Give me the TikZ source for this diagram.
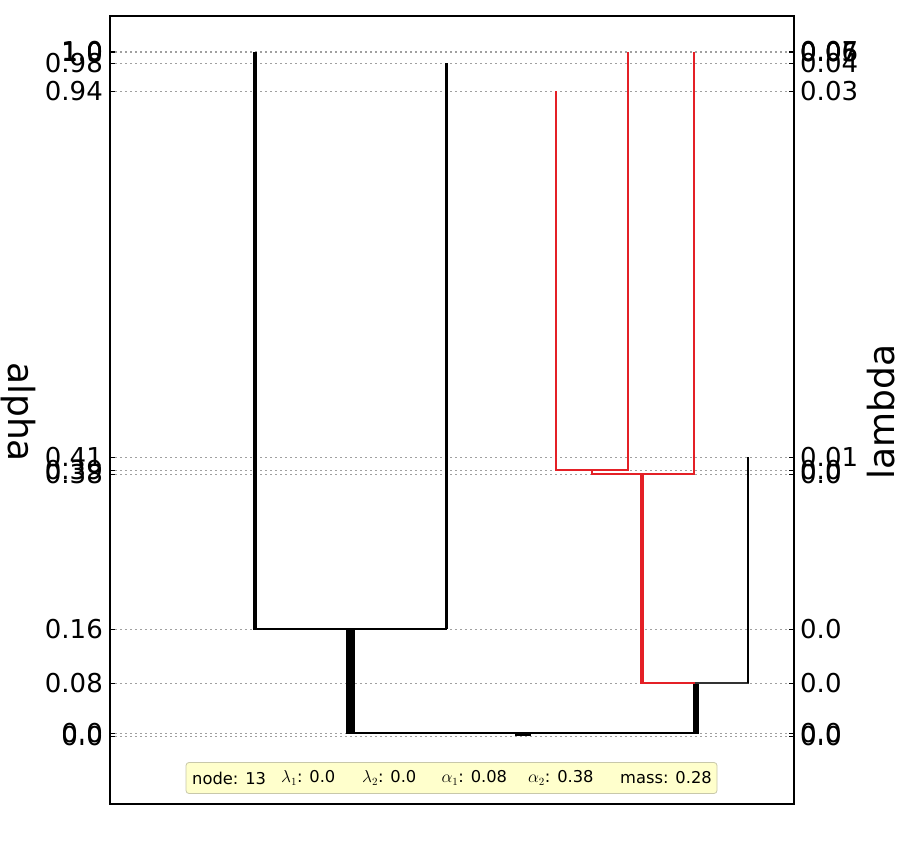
\documentclass[tikz,border=0pt]{standalone}
\usepackage{fontspec}
\setmainfont{DejaVu Sans}
\definecolor{treered}{RGB}{228,32,38}
\definecolor{griddot}{RGB}{160,160,160}
\definecolor{boxfill}{RGB}{255,255,204}
\definecolor{boxedge}{RGB}{200,200,170}
\begin{document}
\begin{tikzpicture}[x=1pt,y=-1pt,
  gridl/.style={griddot,line width=0.9pt,dash pattern=on 1.5pt off 3.5pt},
  tickl/.style={black,line width=1pt},
  ltick/.style={anchor=east,inner sep=0pt,font=\fontsize{26}{26}\selectfont},
  rtick/.style={anchor=west,inner sep=0pt,font=\fontsize{26}{26}\selectfont},
  br/.style={line cap=butt},
  infotext/.style={anchor=west,inner sep=0pt,font=\fontsize{16.3}{16.3}\selectfont}]
\useasboundingbox (0,0) rectangle (912,847);
\fill[white] (0,0) rectangle (912,847);
% gridlines, ticks and tick labels
\foreach \yy/\la/\lb in {51.5/1.0/0.07,52.5/1.0/0.06,52/1.0/0.05,63/0.98/0.04,91/0.94/0.03,457/0.41/0.01,470/0.39/0.0,474/0.38/0.0,629/0.16/0.0,683/0.08/0.0,733/0.0/0.0,736/0.0/0.0}{
  \draw[gridl] (110,\yy) -- (794,\yy);
  \draw[tickl] (110,\yy) -- (115,\yy);
  \draw[tickl] (789,\yy) -- (794,\yy);
  \node[ltick] at (103,\yy) {\la};
  \node[rtick] at (800,\yy) {\lb};
}
% axis labels
\node[rotate=-90,inner sep=0pt,font=\fontsize{36}{36}\selectfont] (alab) at (18,412) {alpha};
\node[rotate=90,inner sep=0pt,font=\fontsize{36}{36}\selectfont] (llab) at (881,412) {lambda};
% tree: black left part
\draw[black,line width=1.5pt] (346,733) -- (699,733);
\fill[black] (515,733) rectangle (531,736);
\draw[black,line width=9pt,br] (350.5,733.5) -- (350.5,629);
\draw[black,line width=1.3pt] (253,629) -- (447,629);
\draw[black,line width=4.5pt,br] (255,629) -- (255,52);
\draw[black,line width=3pt,br] (446,629) -- (446,63);
% right part
\draw[black,line width=6pt,br] (696,733.5) -- (696,683);
\draw[treered,line width=1.5pt] (640,683) -- (695,683);
\draw[black!80,line width=1.5pt] (695,683) -- (749,683);
\draw[black,line width=1.5pt,br] (748,683) -- (748,457);
\draw[treered,line width=4pt,br] (642,683) -- (642,474);
\draw[treered,line width=1.5pt] (591,474) -- (695,474);
\draw[treered,line width=2pt,br] (592,474) -- (592,470);
\draw[treered,line width=1.5pt] (555,470) -- (629,470);
\draw[treered,line width=1.5pt,br] (556,470) -- (556,91);
\draw[treered,line width=1.5pt,br] (628,470) -- (628,52);
\draw[treered,line width=1.5pt,br] (694,474) -- (694,52);
% frame
\draw[black,line width=1.2pt] (110,16) rectangle (794,804);
% info box
\node[draw=boxedge,fill=boxfill,rounded corners=3pt,line width=0.8pt,minimum width=531pt,minimum height=31pt,inner sep=0pt] (info) at (451.5,778) {};
\node[infotext] (t1) at (192,778) {node: 13};
\node[infotext] (t2) at (281,778) {$\lambda_1$: 0.0};
\node[infotext] (t3) at (362,778) {$\lambda_2$: 0.0};
\node[infotext] (t4) at (441.5,778) {$\alpha_1$: 0.08};
\node[infotext] (t5) at (528,778) {$\alpha_2$: 0.38};
\node[infotext] (t6) at (620,778) {mass: 0.28};
\end{tikzpicture}
\end{document}
